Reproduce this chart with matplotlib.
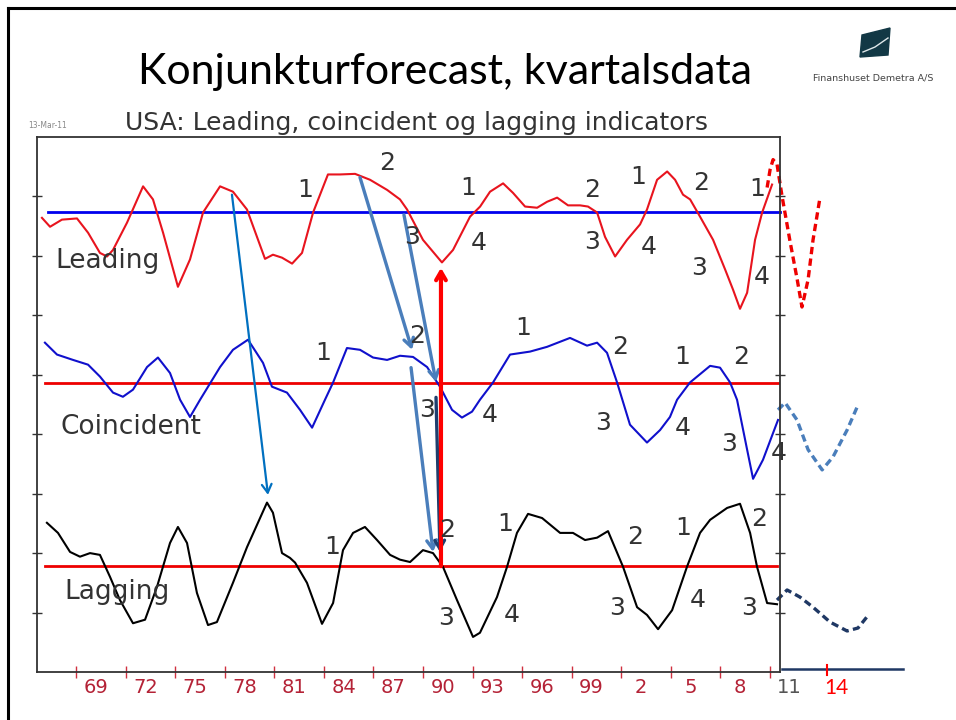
import matplotlib
matplotlib.use("Agg")
import matplotlib.pyplot as plt
from matplotlib.lines import Line2D
from matplotlib.patches import Polygon
import matplotlib.transforms as mtransforms

# === Data (years, index units; y axis has no labels) ===
lead_x = [1966.94, 1967.43, 1968.15, 1969.06, 1969.73, 1970.45, 1970.88, 1971.24, 1972.09, 1973.06,
          1973.66, 1974.27, 1975.17, 1975.90, 1976.69, 1977.72, 1978.50, 1979.35, 1980.02, 1980.44,
          1980.92, 1981.47, 1982.08, 1982.68, 1983.35, 1984.25, 1984.98, 1985.89, 1986.80, 1987.83,
          1988.61, 1989.04, 1990.00, 1991.15, 1991.82, 1992.85, 1993.46, 1994.06, 1994.85, 1995.45,
          1996.18, 1996.91, 1997.51, 1998.12, 1998.78, 1999.51, 1999.99, 2000.54, 2001.02, 2001.63,
          2002.35, 2003.14, 2003.56, 2004.17, 2004.78, 2005.26, 2005.74, 2006.17, 2006.77, 2007.56,
          2008.29, 2008.77, 2009.19, 2009.62, 2010.10, 2010.53, 2011.13]
lead_y = [7.64, 7.49, 7.61, 7.63, 7.39, 7.05, 6.99, 7.10, 7.56, 8.17,
          7.95, 7.39, 6.48, 6.94, 7.73, 8.17, 8.08, 7.78, 7.27, 6.95,
          7.02, 6.97, 6.87, 7.05, 7.73, 8.37, 8.37, 8.38, 8.28, 8.11,
          7.95, 7.78, 7.27, 6.89, 7.10, 7.66, 7.83, 8.08, 8.22, 8.06,
          7.83, 7.81, 7.91, 7.98, 7.85, 7.85, 7.83, 7.73, 7.32, 6.99,
          7.27, 7.53, 7.78, 8.28, 8.42, 8.28, 8.03, 7.95, 7.66, 7.27,
          6.77, 6.43, 6.11, 6.38, 7.27, 7.73, 8.20]
lead_fc_x = [2010.83, 2011.01, 2011.19, 2011.43, 2011.73, 2012.22, 2012.64, 2012.94, 2013.31, 2013.61, 2014.03]
lead_fc_y = [8.15, 8.45, 8.62, 8.54, 8.01, 7.24, 6.62, 6.14, 6.60, 7.27, 7.98]

coin_x = [1967.12, 1967.85, 1968.82, 1969.73, 1970.45, 1971.24, 1971.84, 1972.45, 1973.30, 1973.96,
          1974.69, 1975.30, 1975.90, 1976.51, 1977.72, 1978.50, 1979.41, 1980.32, 1980.86, 1981.77,
          1982.56, 1983.29, 1984.07, 1984.56, 1985.40, 1986.19, 1986.98, 1987.83, 1988.61, 1989.40,
          1990.25, 1991.03, 1991.76, 1992.36, 1992.97, 1993.45, 1994.24, 1995.27, 1996.48, 1997.51,
          1998.90, 1999.93, 2000.54, 2001.14, 2001.75, 2002.53, 2003.56, 2004.35, 2004.95, 2005.38,
          2006.16, 2007.38, 2007.98, 2008.59, 2009.01, 2009.62, 2009.98, 2010.58, 2011.19, 2011.49]
coin_y = [5.54, 5.34, 5.25, 5.17, 4.97, 4.70, 4.63, 4.75, 5.13, 5.29,
          5.03, 4.58, 4.29, 4.58, 5.13, 5.42, 5.59, 5.20, 4.80, 4.70,
          4.41, 4.11, 4.58, 4.87, 5.45, 5.42, 5.29, 5.25, 5.32, 5.30,
          5.13, 4.80, 4.41, 4.28, 4.38, 4.58, 4.87, 5.34, 5.39, 5.47,
          5.62, 5.49, 5.54, 5.37, 4.87, 4.16, 3.86, 4.07, 4.29, 4.58,
          4.87, 5.15, 5.12, 4.87, 4.58, 3.74, 3.25, 3.57, 4.02, 4.24]
coin_fc_x = [2011.49, 2011.92, 2012.64, 2013.31, 2014.16, 2014.82, 2015.67, 2016.33]
coin_fc_y = [4.41, 4.53, 4.24, 3.74, 3.40, 3.62, 4.07, 4.49]

lag_x = [1967.24, 1967.91, 1968.64, 1969.24, 1969.85, 1970.45, 1971.06, 1971.66, 1972.45, 1973.18,
         1973.90, 1974.69, 1975.17, 1975.72, 1976.32, 1976.99, 1977.53, 1978.50, 1979.35, 1980.56,
         1980.92, 1981.47, 1981.95, 1982.26, 1982.98, 1983.89, 1984.56, 1985.16, 1985.77, 1986.49,
         1987.22, 1988.01, 1988.61, 1989.22, 1990.00, 1990.61, 1991.21, 1992.06, 1993.03, 1993.45,
         1994.48, 1995.09, 1995.69, 1996.36, 1997.21, 1998.30, 1999.08, 1999.81, 2000.54, 2001.20,
         2002.11, 2002.96, 2003.56, 2004.23, 2005.08, 2005.98, 2006.77, 2007.38, 2008.41, 2009.19,
         2009.80, 2010.22, 2010.83, 2011.43]
lag_y = [2.51, 2.34, 2.02, 1.94, 2.00, 1.97, 1.60, 1.21, 0.82, 0.88,
         1.43, 2.17, 2.44, 2.17, 1.33, 0.79, 0.84, 1.50, 2.10, 2.85,
         2.68, 2.00, 1.92, 1.84, 1.50, 0.81, 1.16, 2.05, 2.34, 2.44,
         2.22, 1.97, 1.89, 1.85, 2.05, 2.00, 1.77, 1.21, 0.59, 0.66,
         1.26, 1.77, 2.34, 2.66, 2.59, 2.34, 2.34, 2.22, 2.26, 2.37,
         1.77, 1.09, 0.96, 0.72, 1.04, 1.77, 2.34, 2.56, 2.76, 2.83,
         2.34, 1.77, 1.16, 1.14]
lag_fc_x = [2011.43, 2012.04, 2012.82, 2013.61, 2014.64, 2015.67, 2016.33, 2016.88]
lag_fc_y = [1.21, 1.38, 1.26, 1.09, 0.84, 0.69, 0.74, 0.93]

# reference levels
lead_ref, coin_ref, lag_ref = 7.73, 4.87, 1.78

year_ticks = list(range(1969, 2012, 3))
year_labels = ['69', '72', '75', '78', '81', '84', '87', '90', '93', '96', '99', '2', '5', '8', '11']

# phase numbers (label, year, value)
lead_phases = [('1', 1982.86, 8.11), ('2', 1987.83, 8.57), ('3', 1989.34, 7.31), ('4', 1993.39, 7.22),
               ('1', 1992.73, 8.15), ('2', 2000.23, 8.11), ('3', 2000.23, 7.24), ('4', 2003.68, 7.15),
               ('1', 2003.02, 8.32), ('2', 2006.83, 8.23), ('3', 2006.71, 6.80), ('1', 2010.22, 8.13),
               ('4', 2010.52, 6.65)]
coin_phases = [('1', 1983.95, 5.37), ('2', 1989.64, 5.66), ('3', 1990.25, 4.41), ('4', 1994.06, 4.33),
               ('1', 1996.06, 5.79), ('2', 2001.93, 5.47), ('3', 2000.90, 4.19), ('4', 2005.74, 4.11),
               ('1', 2005.68, 5.30), ('2', 2009.25, 5.30), ('3', 2008.53, 3.84), ('4', 2011.55, 3.69)]
lag_phases = [('1', 1984.50, 2.10), ('2', 1991.46, 2.39), ('3', 1991.40, 0.91), ('1', 1994.97, 2.49),
              ('4', 1995.39, 0.96), ('2', 2002.84, 2.27), ('3', 2001.75, 1.08), ('1', 2005.74, 2.42),
              ('4', 2006.65, 1.21), ('2', 2010.34, 2.58), ('3', 2009.74, 1.08)]

# lead -> lag arrows (start, end)
arrows = [((1978.44, 8.03), (1980.62, 2.98), '#0070C0', 1.6),
          ((1986.19, 8.32), (1989.34, 5.42), '#4A7EBB', 2.4),
          ((1988.85, 7.69), (1990.79, 4.88), '#4A7EBB', 2.4),
          ((1989.28, 5.12), (1990.61, 2.02), '#4A7EBB', 2.4),
          ((1990.79, 4.62), (1991.03, 2.02), '#1F3F6E', 2.4)]

GRAY = '#333333'
fig = plt.figure(figsize=(9.56, 7.2), dpi=100)

# slide border
fig.add_artist(Line2D([8/956, 1], [1-8/720, 1-8/720], color='black', lw=2.2))
fig.add_artist(Line2D([8/956, 8/956], [0, 1-8/720], color='black', lw=2.2))

fig.text(0.4655, 1-84/720, 'Konjunkturforecast, kvartalsdata', ha='center', va='baseline',
         fontsize=31, family='Lato', color='black')

# logo
fig.add_artist(Polygon([(860/956, 1-57/720), (862/956, 1-35/720), (890/956, 1-28/720), (888/956, 1-55/720)],
                       closed=True, transform=fig.transFigure, color='#123845'))
fig.add_artist(Line2D([863/956, 875/956, 888/956], [1-52/720, 1-47/720, 1-38/720], color='#dfe8ea', lw=1))
fig.text(873/956, 1-78/720, 'Finanshuset Demetra A/S', ha='center', va='center', fontsize=6.8,
         color='#444444', family='Liberation Sans Narrow')

fig.text(125/956, 1-130/720, 'USA: Leading, coincident og lagging indicators', ha='left', va='baseline',
         fontsize=18, color=GRAY)
fig.text(28/956, 1-125/720, '13-Mar-11', ha='left', va='center', fontsize=5.5, color='#888888')

ax = fig.add_axes([37/956, 48/720, 743/956, 535/720])
ax.set_xlim(1966.64, 2011.61)
ax.set_ylim(0, 9)
for s in ax.spines.values():
    s.set_color(GRAY)
    s.set_linewidth(1.3)
ax.set_yticks(range(1, 9))
ax.set_yticklabels([])
ax.tick_params(axis='y', direction='inout', length=7, width=1, color=GRAY, right=True)
ax.set_xticks(year_ticks)
ax.set_xticklabels([])
ax.tick_params(axis='x', direction='inout', length=8, width=1, color='#d0303f')

# reference lines
ax.plot([1967.30, 2011.61], [lead_ref, lead_ref], color='#0000EE', lw=2, clip_on=False)
ax.plot([1967.12, 2011.49], [coin_ref, coin_ref], color='#EE0000', lw=2, clip_on=False)
ax.plot([1967.12, 2011.43], [lag_ref, lag_ref], color='#EE0000', lw=2, clip_on=False)

# indicators
ax.plot(lead_x, lead_y, color='#E8141E', lw=1.5)
ax.plot(coin_x, coin_y, color='#1010CC', lw=1.5)
ax.plot(lag_x, lag_y, color='black', lw=1.5)

# forecasts
ax.plot(lead_fc_x, lead_fc_y, color='#EE0000', lw=2.4, ls=(0, (2.2, 1.3)), clip_on=False)
ax.plot(coin_fc_x, coin_fc_y, color='#4A7EBB', lw=2.4, ls=(0, (2.2, 1.3)), clip_on=False)
ax.plot(lag_fc_x, lag_fc_y, color='#1F3864', lw=2.4, ls=(0, (2.2, 1.3)), clip_on=False)

for (x0, y0), (x1, y1), c, w in arrows:
    ax.annotate('', xy=(x1, y1), xytext=(x0, y0),
                arrowprops=dict(arrowstyle='->,head_length=0.6,head_width=0.35', color=c, lw=w,
                                shrinkA=0, shrinkB=0))
ax.annotate('', xy=(1991.09, 6.80), xytext=(1991.09, lag_ref),
            arrowprops=dict(arrowstyle='->,head_length=0.6,head_width=0.35', color='#FF0000', lw=3,
                            shrinkA=0, shrinkB=0))

for phases in (lead_phases, coin_phases, lag_phases):
    for lab, x, y in phases:
        ax.text(x, y, lab, ha='center', va='center', fontsize=18, color=GRAY)

ax.text(1970.88, 6.92, 'Leading', ha='center', va='center', fontsize=19, color=GRAY)
ax.text(1972.33, 4.12, 'Coincident', ha='center', va='center', fontsize=19, color=GRAY)
ax.text(1971.48, 1.35, 'Lagging', ha='center', va='center', fontsize=19, color=GRAY)

# year labels, shifted right of the ticks
trans = mtransforms.blended_transform_factory(ax.transData, ax.transAxes)
for yr, lab in zip(year_ticks, year_labels):
    c = '#555555' if lab == '11' else '#B42236'
    ax.text(yr + 1.2, -0.012, lab, transform=trans, ha='center', va='top', fontsize=14, color=c)

# extension of the time axis
ax.plot([2011.73, 2019.05], [0.05, 0.05], color='#1F3864', lw=1.8, clip_on=False)
ax.plot([2014.43, 2014.43], [-0.05, 0.12], color='#FF0000', lw=1.5, clip_on=False)
ax.text(2015.0, -0.012, '14', transform=trans, ha='center', va='top', fontsize=15, color='#FF0000',
        family='Lato')

fig.savefig('out.png', dpi=100)
